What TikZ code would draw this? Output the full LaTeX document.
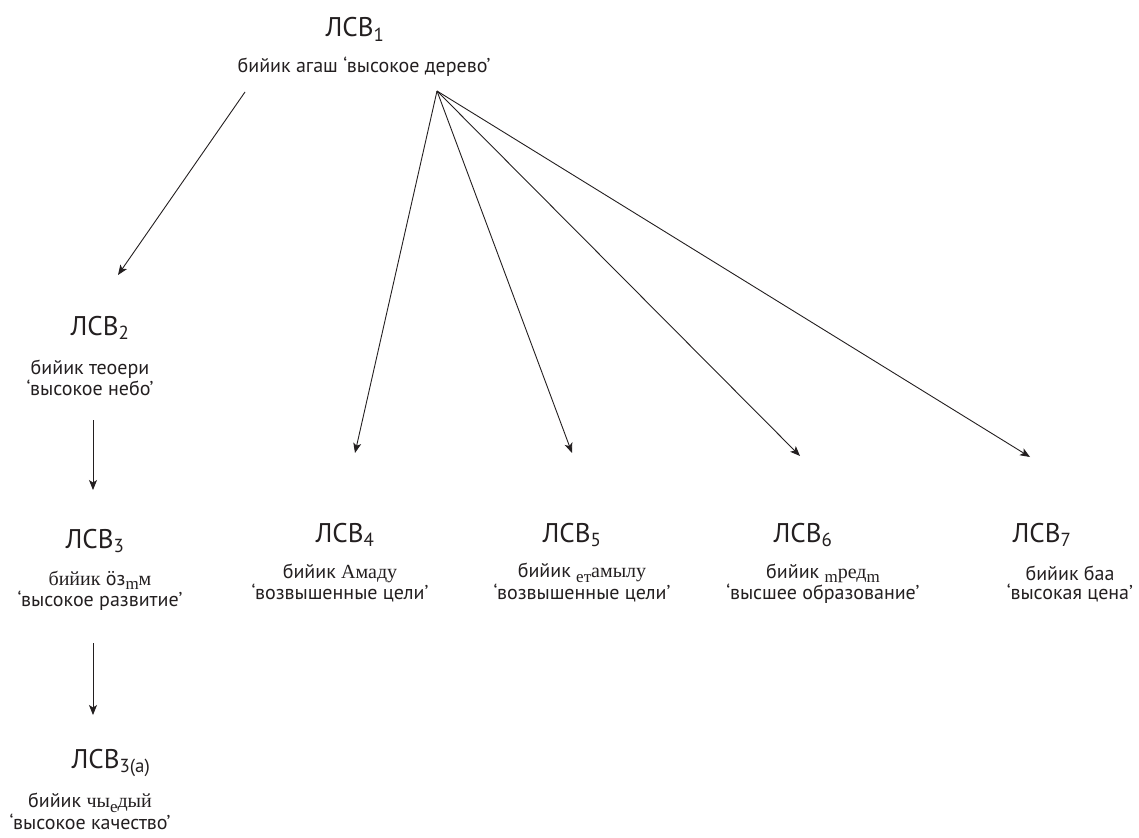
\documentclass[tikz,border=0pt]{standalone}
\usepackage{fontspec}
\setmainfont{PT Sans}
\newfontfamily\tms{Liberation Serif}
\usetikzlibrary{arrows.meta}
\definecolor{ink}{HTML}{231F20}
\newcommand\lsv[1]{ЛСВ\textsubscript{#1}}
\newcommand\lw[1]{\raisebox{-0.22em}{\tms\fontsize{17}{17}\selectfont #1}}
\begin{document}
\begin{tikzpicture}[x=1pt,y=-1pt,
  lbl/.style={font=\fontsize{27}{30}\selectfont, text=ink, inner sep=0pt, anchor=base},
  subt/.style={font=\fontsize{20}{19}\selectfont, text=ink, inner sep=0pt, anchor=base, align=center},
  arr/.style={draw=ink, line width=0.9pt, -{Stealth[length=10pt,width=8pt,inset=2.5pt]}}]
\useasboundingbox (0,0) rectangle (1139,837);
% top
\node[lbl] (l1) at (355,37) {\lsv{1}};
\node[subt] (s1) at (364,73) {бийик агаш ‘высокое дерево’};
% left column
\node[lbl] (l2) at (100,335) {\lsv{2}};
\node[subt] (s2) at (90,395) {бийик теоери\\‘высокое небо’};
\node[lbl] (l3) at (95,548) {\lsv{3}};
\node[subt] (s3) at (100,606) {{\tms бийик} öз\lw{m}{\tms м}\\‘высокое развитие’};
\node[lbl] (l3a) at (111,768) {\lsv{3(a)}};
\node[subt] (s3a) at (90,829) {бийик {\tms чы}\lw{е}{\tms дый}\\‘высокое качество’};
% bottom row
\node[lbl] (l4) at (345,542) {\lsv{4}};
\node[subt] (s4) at (340,599) {бийик {\tms Амаду}\\‘возвышенные цели’};
\node[lbl] (l5) at (572,542) {\lsv{5}};
\node[subt] (s5) at (582,599) {бийик \lw{ет}{\tms амылу}\\‘возвышенные цели’};
\node[lbl] (l6) at (803,542) {\lsv{6}};
\node[subt] (s6) at (823,599) {бийик \lw{m}{\tms ред}\lw{m}\\‘высшее образование’};
\node[lbl] (l7) at (1042,542) {\lsv{7}};
\node[subt] (s7) at (1070,599) {бийик баа\\‘высокая цена’};
% connector ends
\coordinate (a1) at (245,92);
\coordinate (a2) at (118,275);
\coordinate (f) at (437,91);
\coordinate (t4) at (355,453);
\coordinate (t5) at (572,453);
\coordinate (t6) at (800,456);
\coordinate (t7) at (1030,457);
\coordinate (b2) at (93,420);
\coordinate (e3) at (93,490);
\coordinate (b3) at (93,643);
\coordinate (e3a) at (93,715);
\draw[arr] (a1) -- (a2);
\draw[arr] (f) -- (t4);
\draw[arr] (f) -- (t5);
\draw[arr] (f) -- (t6);
\draw[arr] (f) -- (t7);
\draw[arr] (b2) -- (e3);
\draw[arr] (b3) -- (e3a);
\end{tikzpicture}
\end{document}
